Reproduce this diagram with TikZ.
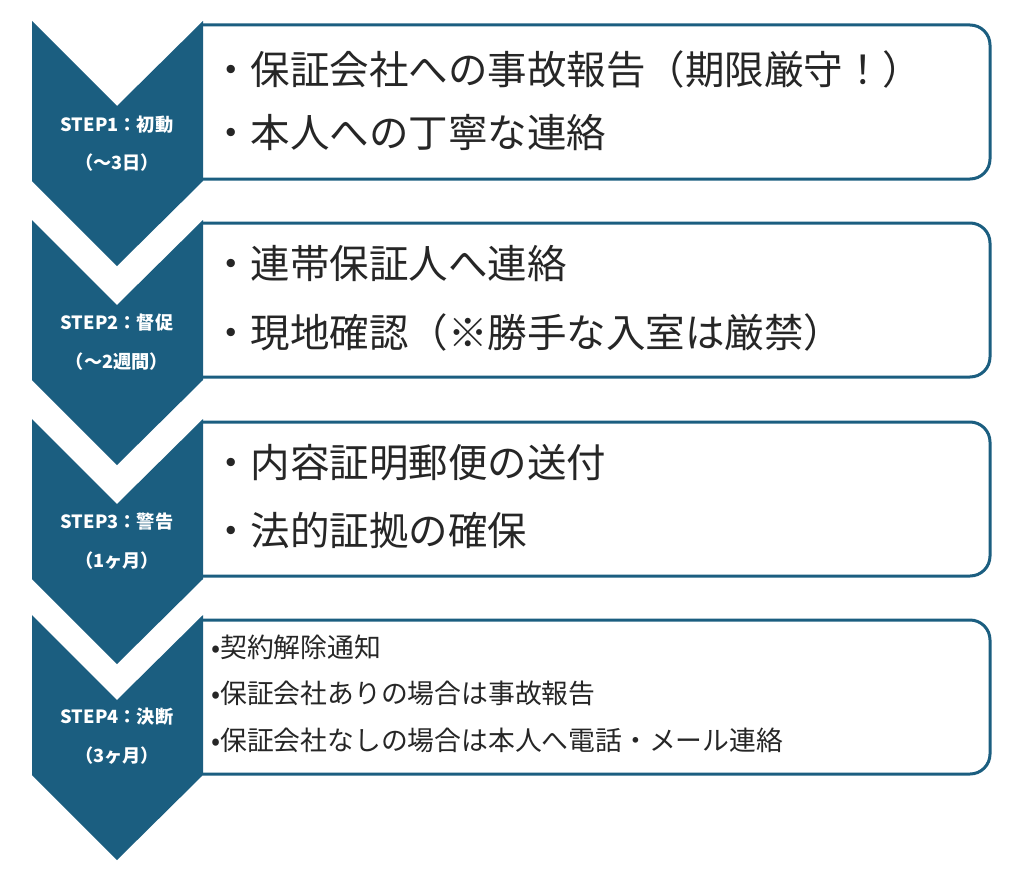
\documentclass[tikz,border=0pt]{standalone}
\usepackage{fontspec}
\setmainfont{Noto Sans CJK JP}
\definecolor{teal}{HTML}{1B5E80}
\tikzset{
  chev/.style={fill=teal, draw=none},
  box/.style={draw=teal, line width=3pt, fill=white, rounded corners=20pt},
  steplbl/.style={text=white, font=\bfseries\fontsize{18.2}{22}\selectfont, anchor=center, inner sep=0pt},
  bigtxt/.style={anchor=west, inner sep=0pt, font=\fontsize{39.5}{46}\selectfont, text=black!85},
  smalltxt/.style={anchor=west, inner sep=0pt, font=\fontsize{26.8}{30}\selectfont, text=black!85}
}
\begin{document}
\begin{tikzpicture}[x=1pt,y=-1pt]
\useasboundingbox (0,0) rectangle (1024,880);
\fill[white] (0,0) rectangle (1024,880);
% boxes
\foreach \t in {22,220,419,617}{
  \draw[box] (203,\t+3) -- (990,\t+3) -- (990,\t+157) -- (203,\t+157);
}
% chevrons
\foreach \t in {21,220,419,615}{
  \fill[chev] (32,\t) -- (117,\t+85) -- (203,\t) -- (203,\t+160) -- (117,\t+245) -- (32,\t+160) -- cycle;
}
% step labels
\node[steplbl] (s1a) at (117,125) {STEP1：初動};
\node[steplbl] (s1b) at (117,163) {（～3日）};
\node[steplbl] (s2a) at (117,323) {STEP2：督促};
\node[steplbl] (s2b) at (117,362) {（～2週間）};
\node[steplbl] (s3a) at (117,522) {STEP3：警告};
\node[steplbl] (s3b) at (117,561) {（1ヶ月）};
\node[steplbl] (s4a) at (117,717) {STEP4：決断};
\node[steplbl] (s4b) at (117,756) {（3ヶ月）};
% box texts
\node[bigtxt] (b1a) at (211,69) {・保証会社への事故報告（期限厳守！）};
\node[bigtxt] (b1b) at (211,133) {・本人への丁寧な連絡};
\node[bigtxt] (b2a) at (211,264) {・連帯保証人へ連絡};
\node[bigtxt] (b2b) at (211,332) {・現地確認（※勝手な入室は厳禁）};
\node[bigtxt] (b3a) at (211,463) {・内容証明郵便の送付};
\node[bigtxt] (b3b) at (211,530) {・法的証拠の確保};
\node[smalltxt] (b4a) at (211,647) {•契約解除通知};
\node[smalltxt] (b4b) at (211,693) {•保証会社ありの場合は事故報告};
\node[smalltxt] (b4c) at (211,740) {•保証会社なしの場合は本人へ電話・メール連絡};
\end{tikzpicture}
\end{document}
